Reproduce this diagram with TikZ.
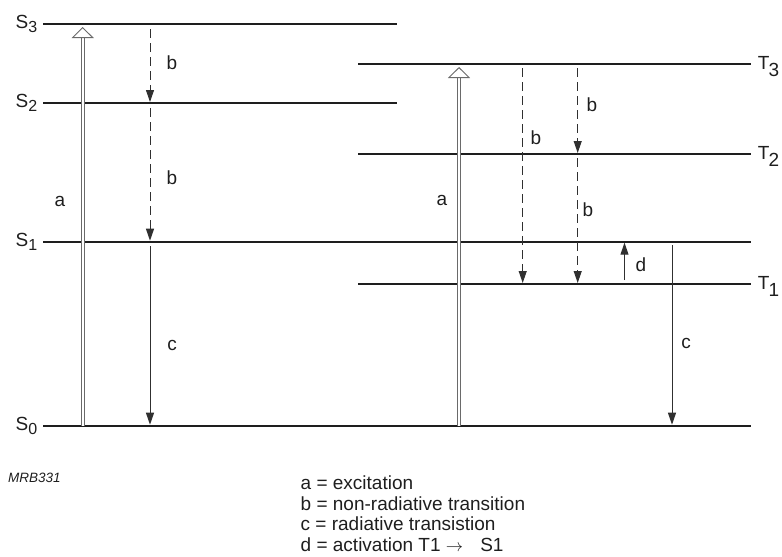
\documentclass[tikz,border=0pt]{standalone}
\usepackage{fontspec}
\setmainfont{Liberation Sans}
\usetikzlibrary{arrows.meta}
\definecolor{ink}{HTML}{1E1E1E}
\definecolor{trans}{HTML}{303030}
\definecolor{pump}{HTML}{6A6A6A}
\newcommand{\lsub}[1]{\raisebox{-4pt}{\fontsize{16}{16}\selectfont#1}}
\newcommand{\tsub}[1]{\kern-1pt\raisebox{-7pt}{#1}}
\tikzset{
  level/.style={draw=ink,line width=2pt},
  lbl/.style={font=\fontsize{19}{20.4}\selectfont,text=ink,inner sep=0pt},
  lvlname/.style={lbl,inner sep=2.5pt},
  excite/.style={draw=pump,line width=0.9pt,double=white,double distance=2.2pt,
                 -{Triangle[open,width=22pt,length=11pt,line width=0.9pt]}},
  nonrad/.style={draw=trans,line width=1pt,dash pattern=on 9pt off 5pt,
                 -{Triangle[width=8pt,length=12pt]}},
  rad/.style={draw=trans,line width=1pt,-{Triangle[width=8pt,length=12pt]}}
}

\begin{document}
\begin{tikzpicture}[x=1pt,y=-1pt,line cap=butt]
  \useasboundingbox (0,0) rectangle (782,557);

  % Singlet levels
  \coordinate (S3w) at (43,24.3);   \coordinate (S3e) at (397,24.3);
  \coordinate (S2w) at (43,103);    \coordinate (S2e) at (397,103);
  \coordinate (S1w) at (43,241.7);  \coordinate (S1e) at (750.7,241.7);
  \coordinate (S0w) at (43,425.7);  \coordinate (S0e) at (750.7,425.7);
  \foreach \s in {S3,S2,S1,S0}
    \draw[level] (\s w) -- (\s e);
  \node[lvlname,anchor=east,xshift=-3pt] (S3lab) at (S3w) {S\lsub{3}};
  \node[lvlname,anchor=east,xshift=-3pt] (S2lab) at (S2w) {S\lsub{2}};
  \node[lvlname,anchor=east,xshift=-3pt] (S1lab) at (S1w) {S\lsub{1}};
  \node[lvlname,anchor=east,xshift=-3pt] (S0lab) at (S0w) {S\lsub{0}};

  % Triplet levels
  \coordinate (T3w) at (358,64);    \coordinate (T3e) at (750.7,64);
  \coordinate (T2w) at (358,154);   \coordinate (T2e) at (750.7,154);
  \coordinate (T1w) at (358,284);   \coordinate (T1e) at (750.7,284);
  \foreach \t in {T3,T2,T1}
    \draw[level] (\t w) -- (\t e);
  \node[lbl,anchor=base west] (T3lab) at ([xshift=7pt,yshift=-5pt]T3e) {T\tsub{3}};
  \node[lbl,anchor=base west] (T2lab) at ([xshift=7pt,yshift=-5pt]T2e) {T\tsub{2}};
  \node[lbl,anchor=base west] (T1lab) at ([xshift=7pt,yshift=-5pt]T1e) {T\tsub{1}};

  % Excitation
  \coordinate (a1s) at (82.7,425.7);  \coordinate (a1e) at (82.7,27);
  \coordinate (a2s) at (459,425.7);   \coordinate (a2e) at (459,67);
  \draw[excite] (a1s) -- (a1e);
  \draw[excite] (a2s) -- (a2e);
  \node[lbl] (a1lab) at (60,201) {a};
  \node[lbl] (a2lab) at (442,200) {a};

  % Decay in the singlet column
  \coordinate (b1s) at (150,29);    \coordinate (b1e) at (150,102);
  \coordinate (b2s) at (150,108);   \coordinate (b2e) at (150,240.7);
  \coordinate (c1s) at (150,246);   \coordinate (c1e) at (150,424.7);
  \draw[nonrad] (b1s) -- (b1e);
  \draw[nonrad] (b2s) -- (b2e);
  \draw[rad] (c1s) -- (c1e);
  \node[lbl] (b1lab) at (172,63) {b};
  \node[lbl] (b2lab) at (172,178) {b};
  \node[lbl] (c1lab) at (172,345) {c};

  % Decay in the triplet column
  \coordinate (b3s) at (522.7,68);  \coordinate (b3e) at (522.7,283);
  \coordinate (b4s) at (577.7,68);  \coordinate (b4e) at (577.7,153);
  \coordinate (b5s) at (577.7,158); \coordinate (b5e) at (577.7,283);
  \coordinate (ds)  at (624.5,280); \coordinate (de)  at (624.5,242.7);
  \coordinate (c2s) at (672,245);   \coordinate (c2e) at (672,424.7);
  \draw[nonrad] (b3s) -- (b3e);
  \draw[nonrad] (b4s) -- (b4e);
  \draw[nonrad] (b5s) -- (b5e);
  \draw[rad] (ds) -- (de);
  \draw[rad] (c2s) -- (c2e);
  \node[lbl] (b3lab) at (536,138) {b};
  \node[lbl] (b4lab) at (592,105) {b};
  \node[lbl] (b5lab) at (588,210) {b};
  \node[lbl] (dlab)  at (641,265) {d};
  \node[lbl] (c2lab) at (686,343) {c};

  % Key
  \node[font=\fontsize{13.5}{14}\selectfont\itshape,text=ink,inner sep=0pt,
        anchor=west] (code) at (8,478) {MRB331};
  \node[lbl,anchor=base west,align=left] (key) at (300.5,551)
    {a = excitation\\
     b = non-radiative transition\\
     c = radiative transistion\\
     d = activation T1 $\rightarrow$\hspace{0.9em}S1};
\end{tikzpicture}
\end{document}
